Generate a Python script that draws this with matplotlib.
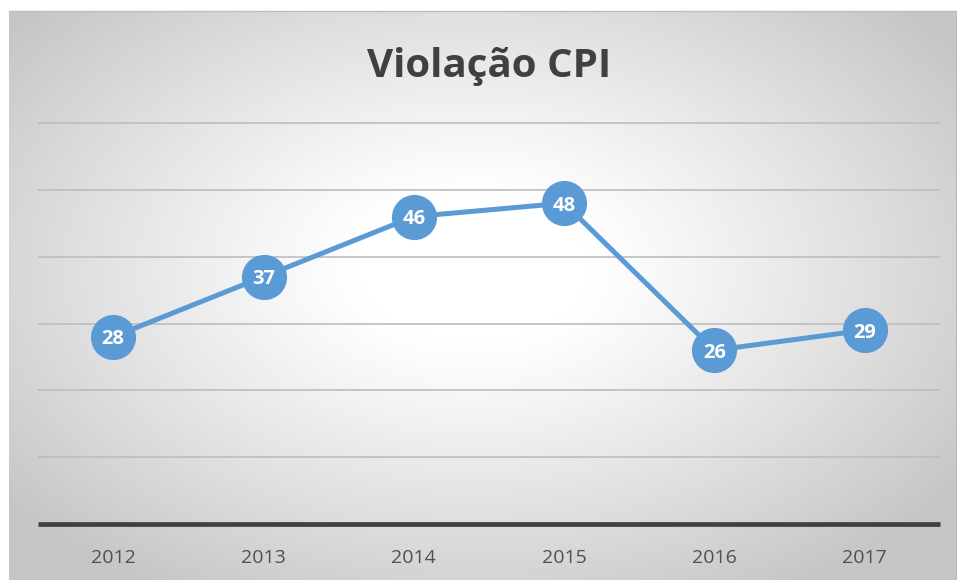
import numpy as np
import matplotlib
matplotlib.use("Agg")
import matplotlib.pyplot as plt

years = ["2012", "2013", "2014", "2015", "2016", "2017"]
values = [28, 37, 46, 48, 26, 29]
title = "Violação CPI"

W, H = 957, 580
fig = plt.figure(figsize=(W / 100, H / 100), dpi=100)
fig.patch.set_facecolor("white")

# gradient background panel
bx0, by0, bx1, by1 = 9, 11, 956, 580
bg = fig.add_axes([bx0 / W, 1 - by1 / H, (bx1 - bx0) / W, (by1 - by0) / H])
gx, gy = np.meshgrid(np.linspace(0, 1, 400), np.linspace(0, 1, 300))
cx, cy = 0.49, 0.45
r = np.sqrt(((gx - cx) / 0.62) ** 2 + ((gy - cy) / 0.66) ** 2)
r = np.clip(r, 0, 1)
shade = 1.0 - 0.22 * np.clip((r - 0.2) / 0.8, 0, 1) ** 1.1
img = np.dstack([shade, shade, shade])
bg.imshow(img, aspect="auto", extent=[0, 1, 0, 1], interpolation="bilinear")
bg.set_axis_off()
bg.plot([0, 1, 1], [1, 1, 0], color="#bdbdbd", lw=1, transform=bg.transAxes, clip_on=False)

# main axes
px0, px1, py_top, py_bot = 38, 940, 123, 524
ax = fig.add_axes([px0 / W, 1 - py_bot / H, (px1 - px0) / W, (py_bot - py_top) / H])
ax.patch.set_alpha(0)
x = np.arange(len(years))
ax.set_xlim(-0.5, len(years) - 0.5)
ax.set_ylim(0, 60)
for yv in range(10, 61, 10):
    ax.axhline(yv, color="#bdbdbd", lw=1.2, zorder=1, clip_on=False, solid_capstyle="butt")
ax.axhline(0, color="#404040", lw=3.4, zorder=2, clip_on=False, solid_capstyle="butt")
for s in ax.spines.values():
    s.set_visible(False)
ax.set_yticks([])
ax.set_xticks(x)
ax.set_xticklabels(years, fontsize=14, color="#505050", family=["Open Sans", "DejaVu Sans"])
ax.tick_params(axis="x", length=0, pad=18)

ax.plot(x, values, color="#5b9bd5", lw=3.6, zorder=3, solid_capstyle="round")
ax.plot(x, values, "o", color="#5b9bd5", ms=32.5, mec="#5b9bd5", mew=0, zorder=4, clip_on=False)
for xi, v in zip(x, values):
    ax.text(xi, v, str(v), ha="center", va="center_baseline", color="white",
            fontsize=14.5, fontweight="bold", family=["Open Sans", "DejaVu Sans"], zorder=5)

fig.text(489 / W, 1 - 66 / H, title, ha="center", va="center", fontsize=29,
         fontweight="bold", color="#404040", family=["Open Sans", "DejaVu Sans"])

fig.savefig("out.png", dpi=100, facecolor="white")
